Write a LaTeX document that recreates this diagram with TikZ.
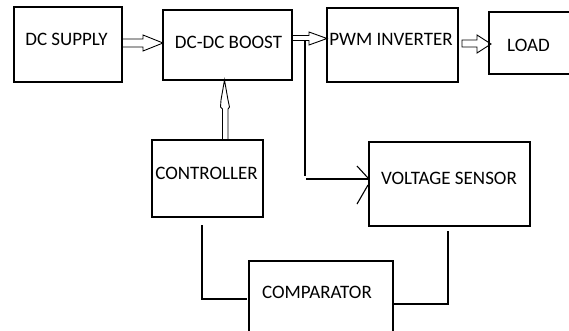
\documentclass[tikz,border=0pt]{standalone}
\usepackage{fontspec}
\setmainfont{Carlito}
\usetikzlibrary{calc}
\begin{document}
\begin{tikzpicture}[x=1pt,y=-1pt,
  box/.style={draw,line width=1.3pt,inner sep=0pt,outer sep=0pt},
  txt/.style={anchor=base,inner sep=0pt,font=\fontsize{19}{21}\selectfont},
  barrow/.style={draw,line width=0.9pt,line join=miter},
  wire/.style={draw,line width=1.1pt}]
\useasboundingbox (0,0) rectangle (569,330);
% boxes
\node[box,minimum width=108,minimum height=75] (sup) at (68,44.5) {};
\node[box,minimum width=129,minimum height=70] (boost) at (227.5,45) {};
\node[box,minimum width=131,minimum height=74] (pwm) at (392.5,45) {};
\node[box,minimum width=90,minimum height=62] (load) at (534,43) {};
\node[box,minimum width=111,minimum height=77] (ctrl) at (207.5,178.5) {};
\node[box,minimum width=161,minimum height=84] (vs) at (449.5,184) {};
\node[box,minimum width=144,minimum height=70.5] (cmp) at (321,296.25) {};
% texts
\node[txt] (supt) at (66.5,45.5) {DC SUPPLY};
\node[txt] (boostt) at (228.5,48) {DC-DC BOOST};
\node[txt] (pwmt) at (391,45) {PWM INVERTER};
\node[txt] (loadt) at (528.5,51) {LOAD};
\node[txt] (ctrlt) at (206.5,179) {CONTROLLER};
\node[txt] (vst) at (449,184) {VOLTAGE SENSOR};
\node[txt] (cmpt) at (317,298) {COMPARATOR};
% block arrow: supply -> boost
\draw[barrow] (sup.east |- 0,39) -- (143,39) -- (143,35) -- (boost.west |- 0,43)
  -- (143,51) -- (143,47) -- (sup.east |- 0,47);
% block arrow: boost -> pwm
\draw[barrow] (boost.east |- 0,35.5) -- (309,35.5) -- (309,32) -- (pwm.west |- 0,38.5)
  -- (309,45) -- (309,40.5) -- (boost.east |- 0,40.5);
% block arrow: pwm -> load
\draw[barrow] ($(pwm.east |- 0,40)+(4,0)$) -- (477,40) -- (477,35) -- ($(load.west |- 0,44)+(2,0)$)
  -- (477,53) -- (477,47) -- ($(pwm.east |- 0,47)+(4,0)$) -- cycle;
% block arrow: controller -> boost
\draw[barrow] (ctrl.north -| 222.5,0) -- (222.5,109) -- (220.5,107) -- (221,100)
  -- (boost.south -| 224.5,0) -- (228,100) -- (229.5,107) -- (228,109) -- (ctrl.north -| 228,0);
% tap to voltage sensor
\coordinate (tap) at (305,40.5);
\draw[wire] (tap) -- (305,176);
\draw[wire] (306,179) -- (vs.west |- 0,179);
\draw[wire] ($(vs.west |- 0,179)+(-1,-1)$) -- ++(-11,-12);
\draw[wire] ($(vs.west |- 0,184)+(-1,1)$) -- ++(-11,19);
% feedback wires
\draw[wire] ($(ctrl.south west)+(50,8)$) |- ($(cmp.west |- 0,299)+(-2,0)$);
\draw[wire] ($(vs.south)+(-1.5,5)$) |- (cmp.east |- 0,304);
\end{tikzpicture}
\end{document}
